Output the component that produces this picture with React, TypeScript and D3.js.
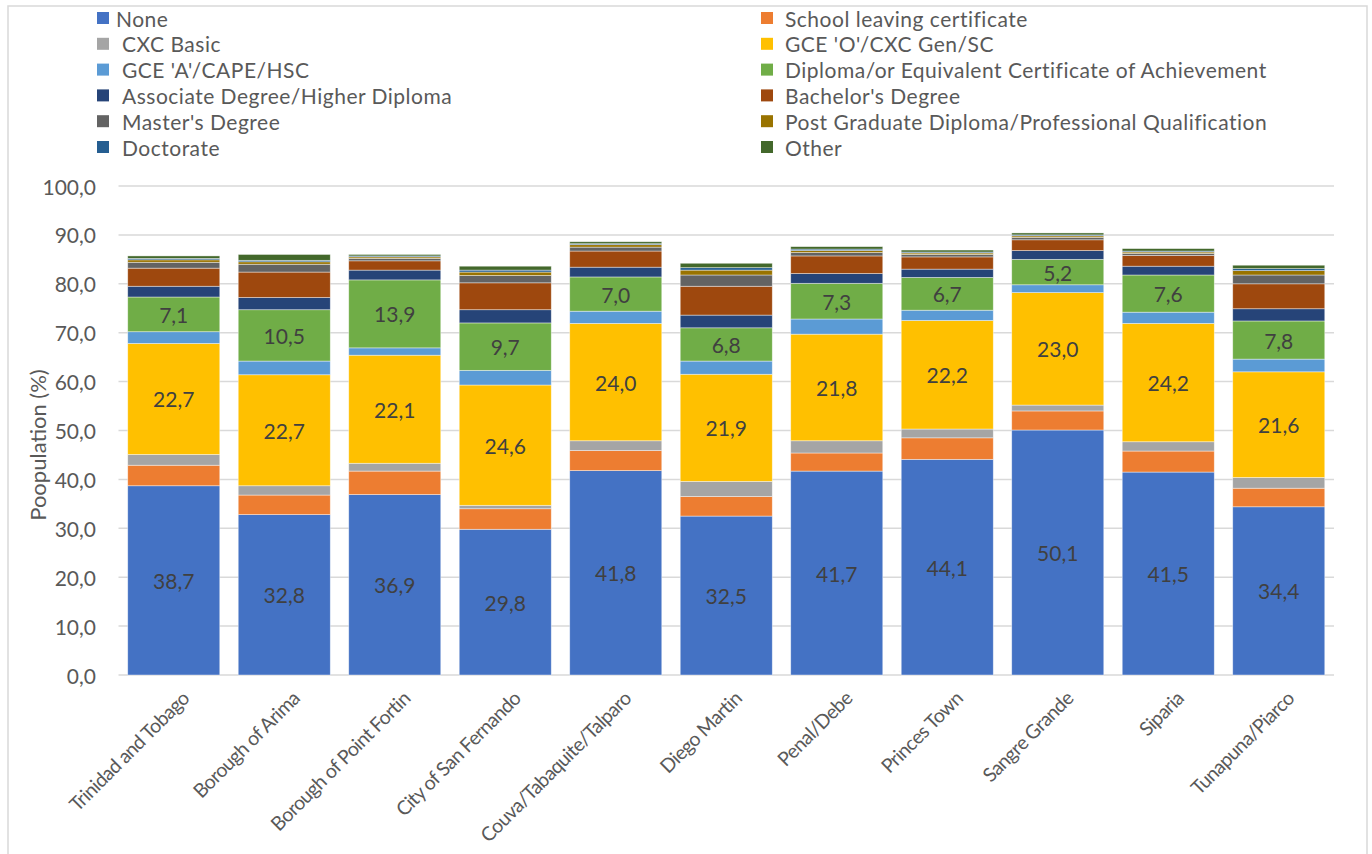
import React from "react";
import * as d3 from "d3";

const categories = [
  "Trinidad and Tobago",
  "Borough of Arima",
  "Borough of Point Fortin",
  "City of San Fernando",
  "Couva/Tabaquite/Talparo",
  "Diego Martin",
  "Penal/Debe",
  "Princes Town",
  "Sangre Grande",
  "Siparia",
  "Tunapuna/Piarco",
];

const seriesNames = [
  "None",
  "School leaving certificate",
  "CXC Basic",
  "GCE 'O'/CXC Gen/SC",
  "GCE 'A'/CAPE/HSC",
  "Diploma/or Equivalent Certificate of Achievement",
  "Associate Degree/Higher Diploma",
  "Bachelor's Degree",
  "Master's Degree",
  "Post Graduate Diploma/Professional Qualification",
  "Doctorate",
  "Other",
];

const seriesColors = [
  "#4472C4", "#ED7D31", "#A5A5A5", "#FFC000", "#5B9BD5", "#70AD47",
  "#264478", "#9E480E", "#636363", "#997300", "#255E91", "#43682B",
];

const none = [38.7, 32.8, 36.9, 29.8, 41.8, 32.5, 41.7, 44.1, 50.1, 41.5, 34.4];
const schoolLeaving = [4.2, 4.0, 4.8, 4.2, 4.1, 4.0, 3.7, 4.4, 3.9, 4.3, 3.8];
const cxcBasic = [2.2, 1.9, 1.6, 0.7, 2.0, 3.1, 2.5, 1.8, 1.2, 1.9, 2.2];
const gceO = [22.7, 22.7, 22.1, 24.6, 24.0, 21.9, 21.8, 22.2, 23.0, 24.2, 21.6];
const gceA = [2.4, 2.8, 1.5, 3.0, 2.5, 2.7, 3.1, 2.1, 1.6, 2.3, 2.6];
const diploma = [7.1, 10.5, 13.9, 9.7, 7.0, 6.8, 7.3, 6.7, 5.2, 7.6, 7.8];
const associate = [2.2, 2.5, 2.0, 2.7, 2.0, 2.6, 2.0, 1.7, 1.8, 1.8, 2.5];
const bachelor = [3.7, 5.2, 1.9, 5.5, 3.3, 5.9, 3.6, 2.5, 2.2, 2.2, 5.1];
const master = [1.2, 1.6, 0.5, 1.5, 0.8, 2.3, 0.7, 0.5, 0.5, 0.4, 1.8];
const postGrad = [0.5, 0.5, 0.3, 0.7, 0.5, 1.0, 0.4, 0.3, 0.3, 0.3, 0.9];
const doctorate = [0.3, 0.3, 0.2, 0.4, 0.2, 0.5, 0.3, 0.2, 0.2, 0.2, 0.4];
const other = [0.5, 1.2, 0.3, 0.8, 0.4, 0.9, 0.5, 0.4, 0.4, 0.5, 0.7];

const seriesValues = [
  none, schoolLeaving, cxcBasic, gceO, gceA, diploma,
  associate, bachelor, master, postGrad, doctorate, other,
];

// series whose values are labelled
const labelledSeries = [0, 3, 5];

const yTicks = [0, 10, 20, 30, 40, 50, 60, 70, 80, 90, 100];

const W = 1372;
const H = 854;
const FONT = "Lato, 'Open Sans', sans-serif";

export default function App() {
  const x = d3
    .scaleBand<string>()
    .domain(categories)
    .range([118.5, 1334])
    .paddingInner(0.167)
    .paddingOuter(0.0835);
  const y = d3.scaleLinear().domain([0, 100]).range([675, 186]);

  const table = categories.map((c, i) => {
    const row: Record<string, number | string> = { cat: c };
    seriesNames.forEach((s, k) => (row[s] = seriesValues[k][i]));
    return row;
  });
  const stacked = d3.stack<any>().keys(seriesNames)(table as any);

  const fmt = (v: number) => v.toFixed(1).replace(".", ",");

  return (
    <svg
      width={W}
      height={H}
      style={{ position: "absolute", left: 0, top: 0, background: "#fff" }}
      fontFamily={FONT}
    >
      <rect x={8} y={6} width={1359} height={860} fill="#fff" stroke="#d9d9d9" strokeWidth={1.5} />

      {/* gridlines */}
      {yTicks.map((t) => (
        <line
          key={t}
          x1={118.5}
          x2={1334}
          y1={y(t)}
          y2={y(t)}
          stroke="#d9d9d9"
          strokeWidth={1.5}
        />
      ))}

      {/* y tick labels */}
      {yTicks.map((t) => (
        <text
          key={"l" + t}
          x={96}
          y={y(t)}
          textAnchor="end"
          dominantBaseline="central"
          fontSize={21}
          fill="#595959"
        >
          {fmt(t)}
        </text>
      ))}

      <text
        transform={`translate(37, 445) rotate(-90)`}
        textAnchor="middle"
        dominantBaseline="central"
        fontSize={22}
        fill="#595959"
      >
        Poopulation (%)
      </text>

      {/* bars */}
      {stacked.map((layer, k) => (
        <g key={seriesNames[k]} fill={seriesColors[k]}>
          {layer.map((d, i) => (
            <rect
              key={categories[i]}
              x={x(categories[i])}
              width={x.bandwidth()}
              y={y(d[1])}
              height={y(d[0]) - y(d[1])}
              stroke="#ffffff"
              strokeOpacity={0.55}
              strokeWidth={0.75}
            />
          ))}
        </g>
      ))}

      {/* data labels */}
      {labelledSeries.map((k) =>
        stacked[k].map((d, i) => (
          <text
            key={k + "-" + i}
            x={(x(categories[i]) as number) + x.bandwidth() / 2}
            y={(y(d[0]) + y(d[1])) / 2}
            textAnchor="middle"
            dominantBaseline="central"
            fontSize={21}
            fill="#404040"
          >
            {fmt(seriesValues[k][i])}
          </text>
        ))
      )}

      {/* x labels */}
      {categories.map((c) => {
        const cx = (x(c) as number) + x.bandwidth() / 2 + 6;
        return (
          <text
            key={c}
            transform={`translate(${cx}, 689) rotate(-45)`}
            textAnchor="end"
            dominantBaseline="hanging"
            fontSize={19.5}
            letterSpacing={-0.6}
            fill="#595959"
          >
            {c}
          </text>
        );
      })}

      {/* legend */}
      {seriesNames.map((s, k) => {
        const col = k % 2;
        const row = Math.floor(k / 2);
        const sx = col === 0 ? 97 : 761;
        const tx = col === 0 ? (k === 0 ? 116 : 122) : 785;
        const cy = 18 + row * 25.8;
        return (
          <g key={"lg" + s}>
            <rect x={sx} y={cy - 6} width={12} height={12} fill={seriesColors[k]} />
            <text
              x={tx}
              y={cy}
              dominantBaseline="central"
              fontSize={21}
              letterSpacing={0.5}
              fill="#595959"
            >
              {s}
            </text>
          </g>
        );
      })}
    </svg>
  );
}
